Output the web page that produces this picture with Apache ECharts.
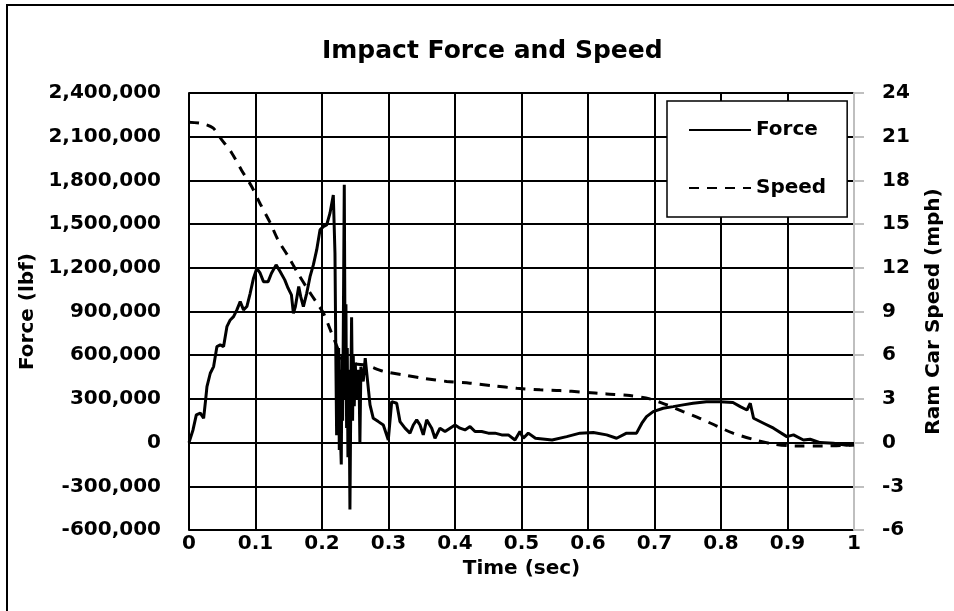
<!DOCTYPE html>
<html>
<head>
<meta charset="utf-8">
<script src="https://cdn.jsdelivr.net/npm/echarts@6/dist/echarts.min.js"></script>
<style>
    body { margin: 0; background: #fff; }
    #chart { width: 954px; height: 611px; }
</style>
</head>
<body>
<div id="chart"></div>
<script>
// force trace (sec, lbf)
var forceTime = [0, 0.006, 0.011, 0.017, 0.022, 0.025, 0.027, 0.032, 0.037, 0.042, 0.047, 0.052, 0.057, 0.062, 0.067,
    0.072, 0.077, 0.082, 0.087, 0.092, 0.097, 0.102, 0.107, 0.112, 0.119, 0.124, 0.131, 0.137, 0.144, 0.149,
    0.154, 0.157, 0.160, 0.165, 0.168, 0.172, 0.177, 0.182, 0.187, 0.192, 0.197, 0.202, 0.207, 0.212, 0.217,
    0.2195, 0.221, 0.222, 0.223, 0.224, 0.225, 0.226, 0.227, 0.228, 0.229, 0.230, 0.231, 0.232, 0.2335, 0.235,
    0.236, 0.237, 0.238, 0.239, 0.2405, 0.242, 0.2435, 0.2445, 0.246, 0.247, 0.2485, 0.250, 0.252, 0.254, 0.256,
    0.257, 0.2585, 0.262, 0.265, 0.2722, 0.2771, 0.2847, 0.2922, 0.2997, 0.3048, 0.3123, 0.3173, 0.3248, 0.3323, 0.3373,
    0.3424, 0.3474, 0.3523, 0.3574, 0.365, 0.3699, 0.3774, 0.385, 0.3925, 0.400, 0.4075, 0.415, 0.4226, 0.4301, 0.4401,
    0.4501, 0.4602, 0.4702, 0.4802, 0.4902, 0.4977, 0.5027, 0.5102, 0.521, 0.546, 0.568, 0.588, 0.608, 0.628, 0.643,
    0.658, 0.673, 0.681, 0.688, 0.698, 0.713, 0.728, 0.743, 0.758, 0.778, 0.798, 0.818, 0.829, 0.839, 0.844,
    0.849, 0.864, 0.879, 0.899, 0.909, 0.924, 0.934, 0.949, 0.969, 0.989, 1.0];
var forceValue = [0, 87000, 190000, 202000, 167000, 293000, 384000, 476000, 522000, 659000, 671000, 659000, 796000, 842000, 865000,
    911000, 968000, 911000, 934000, 1025000, 1129000, 1197000, 1163000, 1105000, 1105000, 1163000, 1220000, 1174000, 1117000, 1060000,
    1014000, 888000, 934000, 1071000, 1002000, 934000, 1025000, 1139000, 1220000, 1323000, 1460000, 1483000, 1494000, 1575000, 1700000,
    1300000, 500000, 50000, 550000, 100000, 650000, -50000, 500000, 0, -150000, 600000, 150000, 750000, 1770000, 300000,
    950000, 100000, 650000, -100000, 500000, -460000, 400000, 860000, 150000, 600000, 250000, 550000, 300000, 500000, 350000,
    0, 520000, 420000, 580000, 259000, 167000, 144000, 121000, 18000, 281000, 270000, 144000, 99000, 65000, 121000,
    156000, 121000, 53000, 156000, 99000, 30000, 99000, 76000, 99000, 121000, 99000, 87000, 110000, 76000, 76000,
    65000, 65000, 53000, 53000, 18000, 76000, 30000, 65000, 30000, 18000, 41000, 65000, 69000, 53000, 30000,
    65000, 65000, 133000, 178000, 213000, 236000, 247000, 259000, 270000, 281000, 281000, 275000, 247000, 224000, 270000,
    167000, 133000, 99000, 41000, 53000, 18000, 23000, 0, -5000, -18000, -15000];

// ram car speed (sec, mph)
var speedTime = [0, 0.02, 0.036, 0.049, 0.064, 0.079, 0.094, 0.107, 0.122, 0.134, 0.149, 0.164, 0.179, 0.192, 0.202,
    0.212, 0.2225, 0.232, 0.25, 0.267, 0.292, 0.322, 0.355, 0.3875, 0.4225, 0.4575, 0.493, 0.528, 0.558, 0.593,
    0.628, 0.663, 0.693, 0.718, 0.743, 0.768, 0.793, 0.818, 0.848, 0.878, 0.913, 0.953, 1.0];
var speedValue = [22.0, 21.9, 21.6, 20.8, 19.9, 18.7, 17.6, 16.4, 15.1, 13.9, 12.8, 11.6, 10.5, 9.6, 8.9,
    7.8, 6.6, 5.6, 5.4, 5.3, 4.9, 4.65, 4.4, 4.2, 4.08, 3.9, 3.73, 3.62, 3.57, 3.46,
    3.34, 3.23, 3.0, 2.6, 2.13, 1.67, 1.15, 0.65, 0.23, -0.09, -0.23, -0.23, -0.16];

var seriesNames = ['Force', 'Speed'];
var chartTitle = 'Impact Force and Speed';
var xName = 'Time (sec)';
var leftName = 'Force (lbf)';
var rightName = 'Ram Car Speed (mph)';

function pairUp(xs, ys) {
    var out = [];
    for (var i = 0; i < xs.length; i++) {
        out.push([xs[i], ys[i]]);
    }
    return out;
}

function addCommas(v) {
    return String(v).replace(/\B(?=(\d{3})+(?!\d))/g, ',');
}

var font = 'DejaVu Sans';
var chart = echarts.init(document.getElementById('chart'));
var option = {
    animation: false,
    backgroundColor: '#fff',
    title: {
        text: chartTitle,
        left: 317,
        top: 34,
        textStyle: {fontFamily: font, fontWeight: 'bold', fontSize: 25, color: '#000'}
    },
    graphic: [{
        type: 'polyline',
        shape: {points: [[7, 611], [7, 5], [954, 5]]},
        style: {stroke: '#000', lineWidth: 2, fill: null}
    }],
    legend: {
        orient: 'vertical',
        left: 667,
        top: 101,
        padding: [19, 21, 19, 21],
        itemGap: 38,
        itemWidth: 62,
        itemHeight: 14,
        borderColor: '#000',
        borderWidth: 1.5,
        backgroundColor: '#fff',
        itemStyle: {opacity: 0},
        data: seriesNames,
        textStyle: {fontFamily: font, fontWeight: 'bold', fontSize: 20, color: '#000'}
    },
    grid: {left: 189, right: 100, top: 93, bottom: 81},
    xAxis: {
        type: 'value',
        min: 0,
        max: 1,
        interval: 0.1,
        name: xName,
        nameLocation: 'middle',
        nameGap: 28,
        nameTextStyle: {fontFamily: font, fontWeight: 'bold', fontSize: 20, color: '#000'},
        axisLine: {show: true, lineStyle: {color: '#000', width: 2}},
        axisTick: {show: false},
        axisLabel: {
            margin: 4,
            fontFamily: font, fontWeight: 'bold', fontSize: 20, color: '#000',
            formatter: function (v) { return String(+v.toFixed(1)); }
        },
        splitLine: {show: true, showMaxLine: false, lineStyle: {color: '#000', width: 2}}
    },
    yAxis: [{
        type: 'value',
        min: -600000,
        max: 2400000,
        interval: 300000,
        name: leftName,
        nameLocation: 'middle',
        nameGap: 147,
        nameTextStyle: {fontFamily: font, fontWeight: 'bold', fontSize: 20, color: '#000'},
        axisLine: {show: true, lineStyle: {color: '#000', width: 2}},
        axisTick: {show: false},
        axisLabel: {
            margin: 28,
            fontFamily: font, fontWeight: 'bold', fontSize: 20, color: '#000',
            formatter: function (v) { return v < 0 ? '-' + addCommas(-v) : addCommas(v); }
        },
        splitLine: {show: true, lineStyle: {color: '#000', width: 2}}
    }, {
        type: 'value',
        position: 'right',
        min: -6,
        max: 24,
        interval: 3,
        name: rightName,
        nameLocation: 'middle',
        nameGap: 70,
        nameTextStyle: {fontFamily: font, fontWeight: 'bold', fontSize: 20, color: '#000'},
        axisLine: {show: true, lineStyle: {color: '#bfbfbf', width: 2}},
        axisTick: {show: true, inside: false, length: 10, lineStyle: {color: '#bfbfbf', width: 2}},
        axisLabel: {
            margin: 28,
            fontFamily: font, fontWeight: 'bold', fontSize: 20, color: '#000'
        },
        splitLine: {show: false}
    }],
    series: [{
        name: seriesNames[0],
        type: 'line',
        yAxisIndex: 0,
        symbol: 'none',
        data: pairUp(forceTime, forceValue),
        lineStyle: {color: '#000', width: 3},
        itemStyle: {color: '#000'}
    }, {
        name: seriesNames[1],
        type: 'line',
        yAxisIndex: 1,
        symbol: 'none',
        smooth: 0.3,
        data: pairUp(speedTime, speedValue),
        lineStyle: {color: '#000', width: 3, type: [10, 8]},
        itemStyle: {color: '#000'}
    }]
};
chart.setOption(option);
</script>
</body>
</html>
